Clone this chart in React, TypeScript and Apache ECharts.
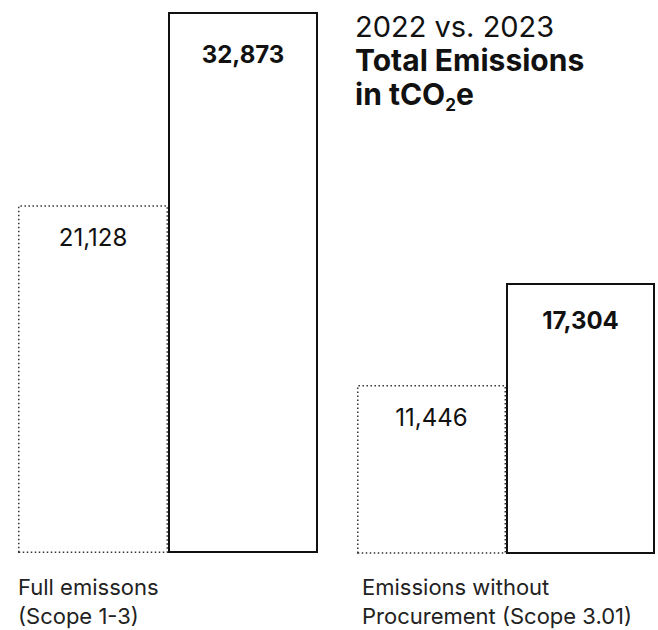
import React, { useEffect, useRef } from "react";
import * as echarts from "echarts";

const categories = ["Full emissons\n(Scope 1-3)", "Emissions without\nProcurement (Scope 3.01)"];
const years = ["2022", "2023"];
const values2022 = [21128, 11446];
const values2023 = [32873, 17304];
const axisMins = [0, 1800];
const axisMax = 32873;

const FONT = "Inter";

export default function App() {
  const ref = useRef<HTMLDivElement>(null);

  useEffect(() => {
    if (!ref.current) return;
    const chart = echarts.init(ref.current, undefined, { renderer: "svg" });

    const grids = [
      { left: 18, top: 12, width: 300, height: 541 },
      { left: 357, top: 12, width: 298, height: 541 },
    ];
    const labelShift = [-150, -144];
    const dist2022 = [20, 20];
    const dist2023 = [30, 25];

    const fmt = (v: number) => v.toLocaleString("en-US");

    const series: any[] = [];
    categories.forEach((_, g) => {
      series.push({
        name: years[0],
        type: "bar",
        xAxisIndex: g,
        yAxisIndex: g,
        barGap: "0%",
        barCategoryGap: "0%",
        data: [values2022[g]],
        itemStyle: {
          color: "rgba(255,255,255,0)",
          borderColor: "#333",
          borderWidth: 1.5,
          borderType: [1.5, 2.5],
        },
        label: {
          show: true,
          position: "insideTop",
          distance: dist2022[g],
          formatter: (p: any) => fmt(p.value),
          fontFamily: FONT,
          fontSize: 24,
          fontWeight: 400,
          color: "#111",
        },
      });
      series.push({
        name: years[1],
        type: "bar",
        xAxisIndex: g,
        yAxisIndex: g,
        barGap: "0%",
        barCategoryGap: "0%",
        data: [values2023[g]],
        itemStyle: {
          color: "rgba(255,255,255,0)",
          borderColor: "#111",
          borderWidth: 2,
        },
        label: {
          show: true,
          position: "insideTop",
          distance: dist2023[g],
          formatter: (p: any) => fmt(p.value),
          fontFamily: FONT,
          fontSize: 24,
          fontWeight: 700,
          color: "#111",
        },
      });
    });

    chart.setOption({
      animation: false,
      backgroundColor: "#fff",
      title: {
        left: 350,
        top: 4,
        text: "{r|2022 vs. 2023}\n{b|Total Emissions}\n{b|in tCO}{s|2}{b|e}",
        textStyle: {
          fontFamily: FONT,
          rich: {
            r: { fontFamily: FONT, fontSize: 29, fontWeight: 400, lineHeight: 34, color: "#111" },
            b: { fontFamily: FONT, fontSize: 30, fontWeight: 700, lineHeight: 34, color: "#111" },
            s: { fontFamily: FONT, fontSize: 17, fontWeight: 700, lineHeight: 34, color: "#111", padding: [22, 0, 0, 0] },
          },
        },
      },
      grid: grids,
      xAxis: categories.map((c, g) => ({
        type: "category",
        gridIndex: g,
        data: [c],
        axisLine: { show: false },
        axisTick: { show: false },
        axisLabel: {
          show: true,
          align: "left",
          verticalAlign: "top",
          margin: 19,
          padding: [0, 0, 0, labelShift[g]],
          fontFamily: FONT,
          fontSize: 22,
          lineHeight: 29,
          color: "#222",
        },
      })),
      yAxis: categories.map((_, g) => ({
        type: "value",
        gridIndex: g,
        min: axisMins[g],
        max: axisMax,
        show: false,
        splitLine: { show: false },
      })),
      series,
    });

    return () => chart.dispose();
  }, []);

  return (
    <div
      ref={ref}
      style={{ position: "fixed", left: 0, top: 0, width: 658, height: 630 }}
    />
  );
}
